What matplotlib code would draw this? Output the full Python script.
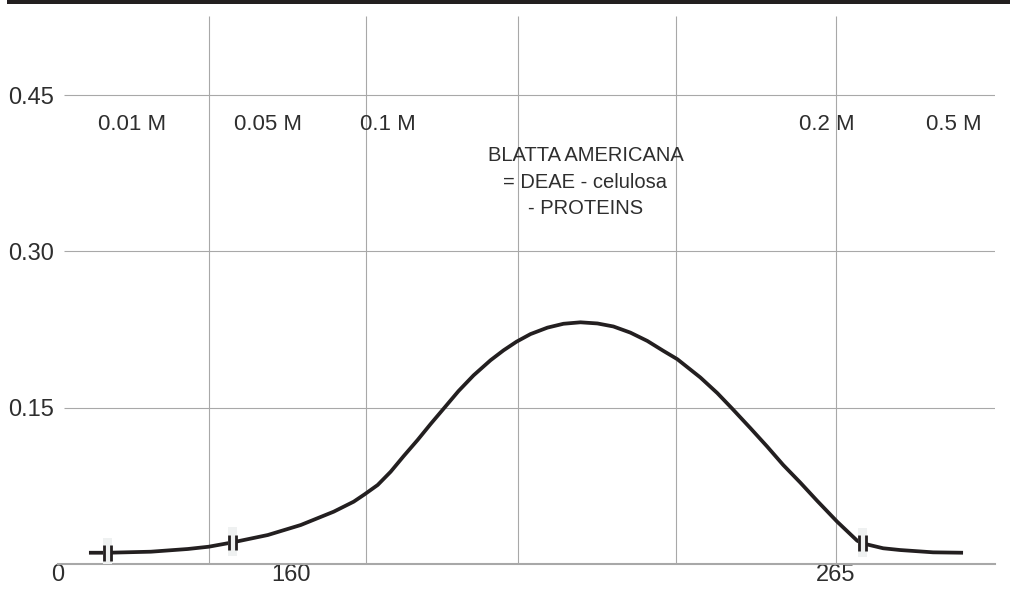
"""
elution profile of blatta americana proteins on DEAE-celulosa
redrawn with matplotlib
"""
import numpy as np
import matplotlib.pyplot as plt
from matplotlib.patches import Rectangle

# position along the (broken) fraction axis, and absorbance
pos = [88, 107, 150, 187, 208, 232, 267, 300, 333, 353, 364, 377, 390, 403, 417,
       430, 443, 458, 473, 490, 503, 516, 530, 547, 563, 580, 597, 613, 630, 647,
       663, 677, 700, 717, 732, 750, 767, 783, 800, 817, 837, 857, 862, 883, 900,
       933, 963]
absorb = [0.0108, 0.0108, 0.0118, 0.0144, 0.0166, 0.0208, 0.0278, 0.0374, 0.0502,
          0.0598, 0.0669, 0.0758, 0.0885, 0.1035, 0.1190, 0.1343, 0.1490, 0.1660,
          0.1810, 0.1955, 0.2050, 0.2133, 0.2206, 0.2268, 0.2305, 0.2319, 0.2308,
          0.2279, 0.2220, 0.2140, 0.2045, 0.1965, 0.1790, 0.1640, 0.1490, 0.1305,
          0.1126, 0.0950, 0.0782, 0.0606, 0.0406, 0.0224, 0.0199, 0.0151, 0.0134,
          0.0112, 0.0108]

break_pos = [107, 232, 862]                 # where the axis is broken
grid_pos = [208, 365, 517, 676, 836]        # vertical gridlines
y_ticks = [0.15, 0.30, 0.45]
y_tick_labels = ['0.15', '0.30', '0.45']
x_ticks = [57, 290, 835]
x_tick_labels = ['0', '160', '265']
molar_pos = [131, 267, 387, 827, 954]
molar_labels = ['0.01 M', '0.05 M', '0.1 M', '0.2 M', '0.5 M']
title_lines = ['BLATTA AMERICANA', '= DEAE - celulosa', '- PROTEINS']

INK = '#231f20'
GRID = '#a8a8a8'
TEXT = '#2e2e2e'
FONT = ['Liberation Sans', 'DejaVu Sans']

fig = plt.figure(figsize=(10.10, 5.94), dpi=100)
ax = fig.add_axes([58 / 1010, 30 / 594, 937 / 1010, 548 / 594])
ax.set_xlim(58, 995)
ax.set_ylim(0, 0.5258)

# black rule across the top
fig.patches.append(Rectangle((7 / 1010, 590 / 594), 1, 4 / 594, transform=fig.transFigure,
                             facecolor=INK, edgecolor='none'))

# grid
ax.hlines(y_ticks, 63, 995, color=GRID, lw=0.8, zorder=1)
ax.vlines(grid_pos, 0, 0.5258, color=GRID, lw=0.8, zorder=1)

for side in ['top', 'right', 'left']:
    ax.spines[side].set_visible(False)
ax.spines['bottom'].set_color(GRID)
ax.spines['bottom'].set_linewidth(1.5)

ax.plot(pos, absorb, color=INK, lw=2.7, solid_capstyle='butt', solid_joinstyle='round',
        zorder=3)

# axis-break marks: pale box over the line with two short bars
for bx in break_pos:
    by = np.interp(bx, pos, absorb)
    ax.add_patch(Rectangle((bx - 4.5, by - 0.0135), 9, 0.028, facecolor='#eff1f1',
                           edgecolor='none', zorder=4))
    ax.vlines([bx - 3.5, bx + 3.5], by - 0.0075, by + 0.0075, color=INK, lw=2.0, zorder=5)

ax.set_yticks(y_ticks)
ax.set_yticklabels(y_tick_labels, family=FONT, fontsize=17, color=TEXT)
ax.set_xticks(x_ticks)
ax.set_xticklabels(x_tick_labels, family=FONT, fontsize=17, color=TEXT)
ax.tick_params(axis='y', length=0, pad=3)
ax.tick_params(axis='x', length=0, pad=0)

for mx, ml in zip(molar_pos, molar_labels):
    ax.text(mx, 0.4164, ml, ha='center', va='baseline', family=FONT, fontsize=16,
            color=TEXT)

for i, line in enumerate(title_lines):
    ax.text(585, 0.3867 - i * 0.0256, line, ha='center', va='baseline', family=FONT,
            fontsize=14.5, color=TEXT)

plt.savefig('out.png', dpi=100)
